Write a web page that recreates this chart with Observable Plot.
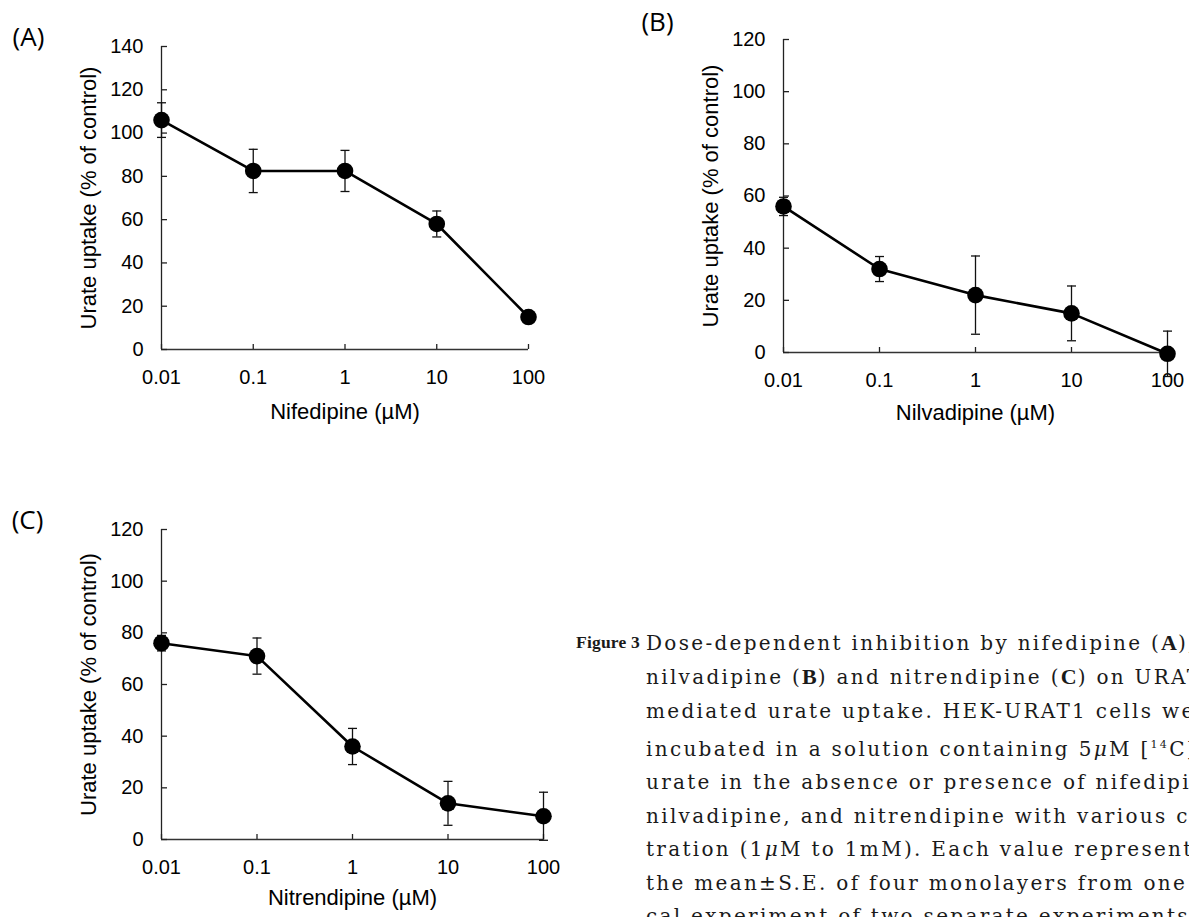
<!DOCTYPE html>
<html><head><meta charset="utf-8">
<script src="https://cdn.jsdelivr.net/npm/d3@7"></script>
<script src="https://cdn.jsdelivr.net/npm/@observablehq/plot@0.6"></script>
<style>
html,body{margin:0;padding:0;background:#fff;}
body{width:1189px;height:917px;position:relative;overflow:hidden;}
.panel{position:absolute;}
.caption{position:absolute;left:576px;top:626px;width:613px;height:291px;overflow:hidden;color:#1a1a1a;}
.fig{position:absolute;left:0;top:0;font-family:"Liberation Serif";font-weight:bold;font-size:17.5px;line-height:33.4px;letter-spacing:0.2px;}
.lines{position:absolute;left:70px;top:0;font-family:"DejaVu Serif";font-size:20px;line-height:33.4px;letter-spacing:2.3px;white-space:nowrap;}
.lines b{font-family:"Liberation Serif";font-weight:bold;font-size:22px;letter-spacing:1px;}
.mu{font-style:italic;}
</style></head>
<body>
<div id="A" class="panel" style="left:0;top:0"></div>
<div id="B" class="panel" style="left:600px;top:0"></div>
<div id="C" class="panel" style="left:0;top:460px"></div>
<div class="caption">
  <div class="fig">Figure 3</div>
  <div class="lines">
    <div>Dose-dependent inhibition by nifedipine (<b>A</b>),</div>
    <div>nilvadipine (<b>B</b>) and nitrendipine (<b>C</b>) on URAT1-</div>
    <div>mediated urate uptake. HEK-URAT1 cells were</div>
    <div>incubated in a solution containing 5<span class="mu">μ</span>M [<sup style="font-size:11px">14</sup>C]</div>
    <div>urate in the absence or presence of nifedipine,</div>
    <div>nilvadipine, and nitrendipine with various concen-</div>
    <div>tration (1<span class="mu">μ</span>M to 1mM). Each value represents</div>
    <div>the mean±S.E. of four monolayers from one typi-</div>
    <div>cal experiment of two separate experiments.</div>
  </div>
</div>
<script>
// ---- data ----
const conc = [0.01, 0.1, 1, 10, 100];
const xTickLabels = ["0.01", "0.1", "1", "10", "100"];
const yTicksA = [0, 20, 40, 60, 80, 100, 120, 140];
const yTicksBC = [0, 20, 40, 60, 80, 100, 120];

const nifedipineMean = [106, 82.5, 82.5, 58, 15];
const nifedipineSE   = [8, 10, 9.5, 6, 1.5];
const nilvadipineMean = [56, 32, 22, 15, -0.5];
const nilvadipineSE   = [3.5, 4.8, 15, 10.5, 8.7];
const nitrendipineMean = [76, 71, 36, 14, 9];
const nitrendipineSE   = [3, 7, 7, 8.5, 9.3];

const yTitle = "Urate uptake (% of control)";

// horizontal cap symbol for error bars (half-length derived from symbol size)
const capSymbol = {draw(ctx, size) { const h = Math.sqrt(size / Math.PI); ctx.moveTo(-h, 0); ctx.lineTo(h, 0); }};

function panel(o) {
  const rows = conc.map((c, i) => ({c, m: o.mean[i], lo: o.mean[i] - o.se[i], hi: o.mean[i] + o.se[i]}));
  return Plot.plot({
    width: o.width, height: o.height,
    marginLeft: o.ml, marginRight: o.mr, marginTop: o.mt, marginBottom: o.mb,
    style: {fontFamily: "Liberation Sans", fontSize: "20px", color: "#000", background: "#fff", overflow: "visible"},
    x: {type: "log", domain: [0.01, 100]},
    y: {domain: [0, o.yTicks[o.yTicks.length - 1]]},
    marks: [
      Plot.ruleX([0.01], {stroke: "#222", strokeWidth: 1.3}),
      Plot.ruleY([0], {stroke: "#333", strokeWidth: 1.3}),
      Plot.axisY(o.yTicks, {anchor: "left", tickSize: -6, tickPadding: 24, fontSize: 20, label: null, stroke: "#222", strokeWidth: 1.3}),
      Plot.axisX(conc, {anchor: "bottom", tickSize: -5, tickPadding: 25, fontSize: 20, label: null, stroke: "#222", strokeWidth: 1.3,
        tickFormat: d => xTickLabels[conc.indexOf(d)]}),
      Plot.ruleX(rows, {x: "c", y1: "lo", y2: "hi", stroke: "#111", strokeWidth: 1.3}),
      Plot.dot(rows, {x: "c", y: "hi", r: 4.5, symbol: capSymbol, stroke: "#111", strokeWidth: 1.3, fill: "none"}),
      Plot.dot(rows, {x: "c", y: "lo", r: 4.5, symbol: capSymbol, stroke: "#111", strokeWidth: 1.3, fill: "none"}),
      Plot.line(rows, {x: "c", y: "m", stroke: "#000", strokeWidth: 2.6}),
      Plot.dot(rows, {x: "c", y: "m", r: 8.3, fill: "#000", stroke: "none"}),
      Plot.text([yTitle], {text: d => d, frameAnchor: "left", rotate: -90, dx: -73, textAnchor: "middle", lineAnchor: "middle", fontSize: 22, fill: "#000"}),
      Plot.text([o.xTitle], {text: d => d, frameAnchor: "bottom", dy: o.xdy, textAnchor: "middle", lineAnchor: "middle", fontSize: 22, fill: "#000"}),
      Plot.text([o.tag], {text: d => d, frameAnchor: "top-left", dx: o.tdx, dy: o.tdy, fontSize: 26, fontFamily: "Open Sans", textAnchor: "middle", lineAnchor: "middle", fill: "#000"})
    ]
  });
}

document.getElementById("A").append(panel({
  mean: nifedipineMean, se: nifedipineSE, yTicks: yTicksA, xTitle: "Nifedipine (µM)", tag: "(A)",
  width: 590, height: 440, ml: 161, mr: 62, mt: 46, mb: 91, xdy: 62, tdx: -133, tdy: -9
}));
document.getElementById("B").append(panel({
  mean: nilvadipineMean, se: nilvadipineSE, yTicks: yTicksBC, xTitle: "Nilvadipine (µM)", tag: "(B)",
  width: 589, height: 440, ml: 183, mr: 22, mt: 39, mb: 88, xdy: 60, tdx: -126, tdy: -17
}));
document.getElementById("C").append(panel({
  mean: nitrendipineMean, se: nitrendipineSE, yTicks: yTicksBC, xTitle: "Nitrendipine (µM)", tag: "(C)",
  width: 590, height: 457, ml: 161, mr: 47, mt: 69, mb: 78, xdy: 58, tdx: -134, tdy: -9
}));
</script>
</body></html>
